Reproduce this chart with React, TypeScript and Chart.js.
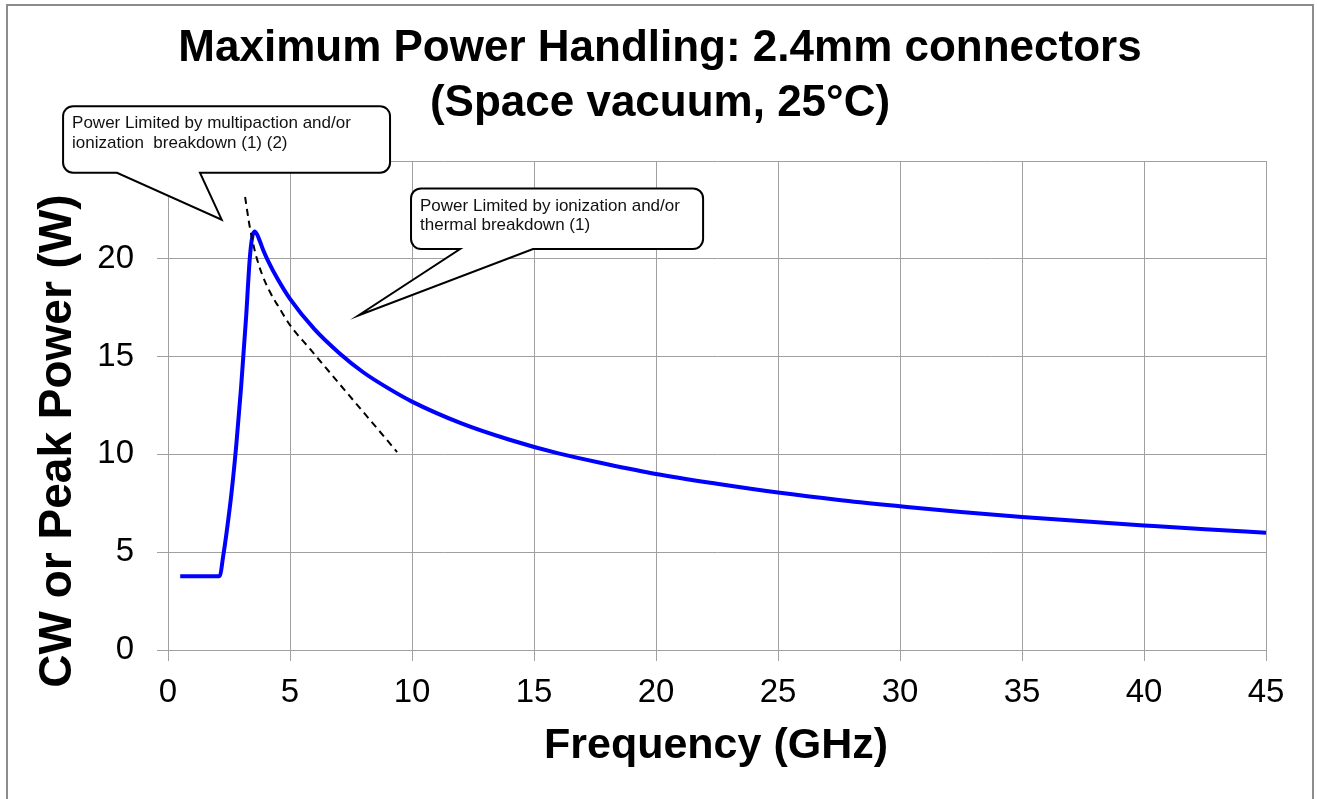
import React, { useEffect, useRef } from 'react';
import { Chart, registerables } from 'chart.js';

Chart.register(...registerables);

// ---- data ----
const freqGHz = [0.5, 1.0, 1.5, 2.0, 2.13, 2.25, 2.4, 2.6, 2.8, 3.0, 3.2, 3.35, 3.45, 3.55, 3.65, 3.75, 3.9, 4.1, 4.5, 5, 6, 7, 8, 9, 10, 12, 14, 16, 18, 20, 22.5, 25, 27.5, 30, 32.5, 35, 37.5, 40, 42.5, 45];
const powerW = [3.77, 3.77, 3.77, 3.77, 3.8, 4.7, 6.0, 8.0, 10.5, 13.5, 17.0, 20.0, 21.1, 21.4, 21.25, 20.95, 20.45, 19.9, 18.95, 17.95, 16.4, 15.2, 14.2, 13.4, 12.7, 11.6, 10.75, 10.05, 9.5, 9.0, 8.5, 8.05, 7.67, 7.35, 7.05, 6.8, 6.58, 6.37, 6.17, 6.0];

const limitFreqGHz = [3.16, 3.36, 3.57, 3.85, 4.18, 4.59, 5.0, 5.82, 7.05, 8.28, 9.39];
const limitPowerW = [23.16, 21.57, 20.35, 19.22, 18.3, 17.43, 16.61, 15.39, 13.57, 11.76, 10.12];

const xMin = 0;
const xMax = 45;
const yMin = 0;
const yMax = 25;
const tickStep = 5;

const titleLines = ['Maximum Power Handling: 2.4mm connectors', '(Space vacuum, 25°C)'];
const xAxisTitle = 'Frequency (GHz)';
const yAxisTitle = 'CW or Peak Power (W)';
const callout1Lines = ['Power Limited by multipaction and/or', 'ionization  breakdown (1) (2)'];
const callout2Lines = ['Power Limited by ionization and/or', 'thermal breakdown (1)'];

// callout geometry in data units (box: x0,x1,yTop,yBottom; pointer base x0,x1; tip x,y)
const callouts = [
  { lines: callout1Lines, box: [-4.3, 9.1, 27.8, 24.4], base: [-2.09, 1.31], tip: [2.2, 22.0] },
  { lines: callout2Lines, box: [9.96, 21.93, 23.6, 20.5], base: [11.97, 14.96], tip: [7.8, 17.1] },
];

const FONT = '"Liberation Sans", Arial, Helvetica, sans-serif';
const GRID = '#a0a0a0';

const decorPlugin = {
  id: 'decor',
  beforeDraw(chart: any) {
    const ctx = chart.ctx;
    ctx.save();
    ctx.fillStyle = '#ffffff';
    ctx.fillRect(0, 0, chart.width, chart.height);
    ctx.strokeStyle = '#8c8c8c';
    ctx.lineWidth = 2;
    ctx.strokeRect(7, 5, 1306, 900);
    ctx.restore();
  },
  afterDraw(chart: any) {
    const ctx = chart.ctx;
    const xs = chart.scales.x;
    const ys = chart.scales.y;
    const px = (v: number) => xs.getPixelForValue(v);
    const py = (v: number) => ys.getPixelForValue(v);
    ctx.save();
    // title
    ctx.fillStyle = '#000';
    ctx.textAlign = 'center';
    ctx.textBaseline = 'middle';
    ctx.font = `bold 44px ${FONT}`;
    ctx.fillText(titleLines[0], 660, 49);
    ctx.fillText(titleLines[1], 660, 104);
    // x title
    ctx.font = `bold 43px ${FONT}`;
    ctx.fillText(xAxisTitle, 716, 746);
    // y title
    ctx.save();
    ctx.translate(58, 441);
    ctx.rotate(-Math.PI / 2);
    ctx.font = `bold 46px ${FONT}`;
    ctx.fillText(yAxisTitle, 0, 0);
    ctx.restore();

    // callouts
    for (const c of callouts) {
      const l = px(c.box[0]);
      const r = px(c.box[1]);
      const t = py(c.box[2]);
      const b = py(c.box[3]);
      const b0 = px(c.base[0]);
      const b1 = px(c.base[1]);
      const tx = px(c.tip[0]);
      const ty = py(c.tip[1]);
      const rad = 10;
      ctx.beginPath();
      ctx.moveTo(l + rad, t);
      ctx.lineTo(r - rad, t);
      ctx.arcTo(r, t, r, t + rad, rad);
      ctx.lineTo(r, b - rad);
      ctx.arcTo(r, b, r - rad, b, rad);
      ctx.lineTo(b1, b);
      ctx.lineTo(tx, ty);
      ctx.lineTo(b0, b);
      ctx.lineTo(l + rad, b);
      ctx.arcTo(l, b, l, b - rad, rad);
      ctx.lineTo(l, t + rad);
      ctx.arcTo(l, t, l + rad, t, rad);
      ctx.closePath();
      ctx.fillStyle = '#fff';
      ctx.fill();
      ctx.strokeStyle = '#000';
      ctx.lineWidth = 2;
      ctx.lineJoin = 'miter';
      ctx.stroke();
      ctx.fillStyle = '#111';
      ctx.font = `17px ${FONT}`;
      ctx.textAlign = 'left';
      ctx.textBaseline = 'middle';
      c.lines.forEach((s, i) => ctx.fillText(s, l + 9, t + 17.5 + i * 19.5));
    }
    ctx.restore();
  },
};

export default function App() {
  const ref = useRef<HTMLCanvasElement | null>(null);
  useEffect(() => {
    if (!ref.current) return;
    const chart = new Chart(ref.current, {
      type: 'line',
      data: {
        datasets: [
          {
            data: limitFreqGHz.map((x, i) => ({ x, y: limitPowerW[i] })),
            borderColor: '#000',
            borderWidth: 2,
            borderDash: [7, 5],
            pointRadius: 0,
            cubicInterpolationMode: 'monotone',
            fill: false,
            order: 0,
          },
          {
            data: freqGHz.map((x, i) => ({ x, y: powerW[i] })),
            borderColor: '#0000ff',
            borderWidth: 4,
            pointRadius: 0,
            cubicInterpolationMode: 'monotone',
            fill: false,
            order: 1,
          },
        ],
      },
      options: {
        animation: false,
        responsive: false,
        devicePixelRatio: 1,
        layout: { padding: { left: 0, right: 51, top: 161, bottom: 0 } },
        plugins: { legend: { display: false }, tooltip: { enabled: false }, title: { display: false } },
        scales: {
          x: {
            type: 'linear',
            min: xMin,
            max: xMax,
            afterFit: (s: any) => { s.height = 149; },
            ticks: { stepSize: tickStep, color: '#000', font: { family: FONT, size: 33 }, padding: 12, maxRotation: 0 },
            grid: { color: GRID, tickColor: GRID, tickLength: 11, lineWidth: 1 },
            border: { color: GRID },
          },
          y: {
            type: 'linear',
            min: yMin,
            max: yMax,
            afterFit: (s: any) => { s.width = 168; },
            ticks: {
              stepSize: tickStep,
              color: '#000',
              font: { family: FONT, size: 33 },
              padding: 23,
              callback: (v: any) => (v === yMax ? '' : String(v)),
            },
            grid: { color: GRID, tickColor: GRID, tickLength: 11, lineWidth: 1 },
            border: { color: GRID },
          },
        },
      },
      plugins: [decorPlugin],
    });
    return () => chart.destroy();
  }, []);
  return (
    <div style={{ position: 'fixed', left: 0, top: 0, width: 1317, height: 799 }}>
      <canvas ref={ref} width={1317} height={799} style={{ width: 1317, height: 799, display: 'block' }} />
    </div>
  );
}
